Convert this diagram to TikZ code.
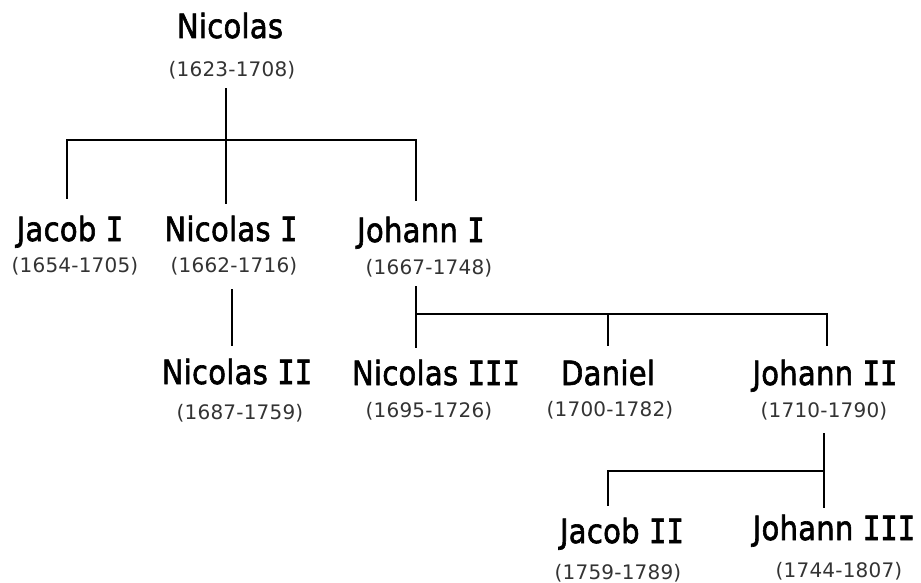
\documentclass[tikz,border=0pt]{standalone}
\usepackage{fontspec}
\usepackage{graphicx}
\newfontfamily\namefont[FakeBold=2,LetterSpace=1]{DejaVu Sans}
\newfontfamily\romfont[FakeBold=2]{DejaVu Sans Mono}
\newfontfamily\yearfont[LetterSpace=1]{DejaVu Sans}
\newcommand{\pname}[1]{\scalebox{1}[1.15]{#1}}
\newcommand{\rom}[1]{{\romfont #1}}
\begin{document}
\begin{tikzpicture}[x=1pt,y=-1pt,
  person/.style={font=\namefont\fontsize{29}{32}\selectfont,anchor=base,inner sep=0pt},
  years/.style={font=\yearfont\fontsize{20}{24}\selectfont,anchor=base,inner sep=0pt,text=black!80},
  link/.style={line width=1.8pt,line cap=rect}]
\useasboundingbox (0,0) rectangle (921,583);
% people
\node[person] (n0) at (230,38) {\pname{Nicolas}};
\node[years] (n0y) at (232,77) {(1623-1708)};
\node[person] (ja1) at (70,241) {\pname{Jacob \rom{I}}};
\node[years] (ja1y) at (75,272) {(1654-1705)};
\node[person] (ni1) at (231,241) {\pname{Nicolas \rom{I}}};
\node[years] (ni1y) at (234,272) {(1662-1716)};
\node[person] (jo1) at (421,242) {\pname{Johann \rom{I}}};
\node[years] (jo1y) at (429,274) {(1667-1748)};
\node[person] (ni2) at (237,384) {\pname{Nicolas \rom{II}}};
\node[years] (ni2y) at (240,419) {(1687-1759)};
\node[person] (ni3) at (436,385) {\pname{Nicolas \rom{III}}};
\node[years] (ni3y) at (429,417) {(1695-1726)};
\node[person] (da) at (608,385) {\pname{Daniel}};
\node[years] (day) at (610,416) {(1700-1782)};
\node[person] (jo2) at (825,385) {\pname{Johann \rom{II}}};
\node[years] (jo2y) at (824,417) {(1710-1790)};
\node[person] (ja2) at (622,543) {\pname{Jacob \rom{II}}};
\node[years] (ja2y) at (618,579) {(1759-1789)};
\node[person] (jo3) at (834,540) {\pname{Johann \rom{III}}};
\node[years] (jo3y) at (839,577) {(1744-1807)};
% junction coordinates
\coordinate (a0) at (226,89);
\coordinate (a1) at (226,140);
\coordinate (a2) at (226,203);
\coordinate (b1) at (67,140);
\coordinate (b2) at (67,198);
\coordinate (c1) at (416,140);
\coordinate (c2) at (416,200);
\coordinate (d0) at (232,290);
\coordinate (d1) at (232,345);
\coordinate (e0) at (416,287);
\coordinate (e1) at (416,314);
\coordinate (e2) at (416,347);
\coordinate (f1) at (608,314);
\coordinate (f2) at (608,345);
\coordinate (g1) at (827,314);
\coordinate (g2) at (827,345);
\coordinate (h0) at (824,434);
\coordinate (h1) at (824,471);
\coordinate (h2) at (824,507);
\coordinate (k1) at (608,471);
\coordinate (k2) at (608,505);
% connectors
\draw[link] (a0) -- (a2);
\draw[link] (b2) -- (b1) -- (c1) -- (c2);
\draw[link] (d0) -- (d1);
\draw[link] (e0) -- (e2);
\draw[link] (e1) -- (g1) -- (g2);
\draw[link] (f1) -- (f2);
\draw[link] (h0) -- (h2);
\draw[link] (k2) -- (k1) -- (h1);
\end{tikzpicture}
\end{document}
